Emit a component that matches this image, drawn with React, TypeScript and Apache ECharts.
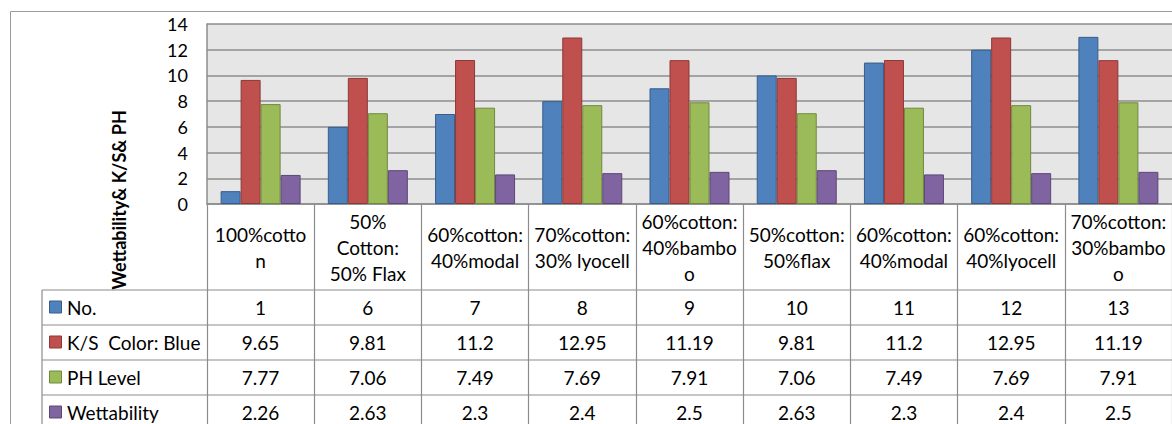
import React, { useEffect, useRef } from "react";
import * as echarts from "echarts";

// Fabric blends (header cells of the data table, wrapped as shown)
const categories = [
  "100%cotto\nn",
  "50%\nCotton:\n50% Flax",
  "60%cotton:\n40%modal",
  "70%cotton:\n30% lyocell",
  "60%cotton:\n40%bambo\no",
  "50%cotton:\n50%flax",
  "60%cotton:\n40%modal",
  "60%cotton:\n40%lyocell",
  "70%cotton:\n30%bambo\no",
];

const seriesNames = ["No.", "K/S  Color: Blue", "PH Level", "Wettability"];

const noValues = [1, 6, 7, 8, 9, 10, 11, 12, 13];
const ksValues = [9.65, 9.81, 11.2, 12.95, 11.19, 9.81, 11.2, 12.95, 11.19];
const phValues = [7.77, 7.06, 7.49, 7.69, 7.91, 7.06, 7.49, 7.69, 7.91];
const wetValues = [2.26, 2.63, 2.3, 2.4, 2.5, 2.63, 2.3, 2.4, 2.5];

const yTicks = { min: 0, max: 14, interval: 2 };

const FILLS = ["#4F81BD", "#C0504D", "#9BBB59", "#8064A2"];
const EDGES = ["#385D8A", "#8C3836", "#71893F", "#5C4776"];
const FONT = "Lato, 'Open Sans', sans-serif";
const LINE = "#8c8c8c";
const TABLE_FONT = 19;

// Layout of the plot and the data table beneath it
const GRID = { left: 207, top: 24, width: 966, height: 180 };
const HEADER_H = 86;
const ROW_H = 35;
const TABLE_LEFT = 42;

export default function App() {
  const ref = useRef<HTMLDivElement>(null);

  useEffect(() => {
    document.body.style.margin = "0";
    if (!ref.current) return;
    const chart = echarts.init(ref.current, undefined, { renderer: "svg" });
    const allValues = [noValues, ksValues, phValues, wetValues];
    const axisY = GRID.top + GRID.height;
    const tableBottom = 440;

    chart.setOption({
      animation: false,
      backgroundColor: "#ffffff",
      grid: { ...GRID, containLabel: false },
      xAxis: {
        type: "category",
        data: categories,
        axisLine: { show: true, lineStyle: { color: LINE, width: 1.5 } },
        axisTick: {
          show: true,
          interval: 0,
          length: tableBottom - axisY,
          lineStyle: { color: LINE, width: 1.2 },
        },
        axisLabel: {
          interval: 0,
          margin: HEADER_H / 2,
          verticalAlign: "middle",
          align: "center",
          fontFamily: FONT,
          fontSize: TABLE_FONT,
          lineHeight: 26,
          color: "#000",
        },
        splitLine: { show: false },
      },
      yAxis: {
        type: "value",
        min: yTicks.min,
        max: yTicks.max,
        interval: yTicks.interval,
        axisLine: { show: true, lineStyle: { color: LINE, width: 1.5 } },
        axisTick: { show: false },
        axisLabel: {
          margin: 19,
          fontFamily: FONT,
          fontSize: 18,
          color: "#000",
        },
        splitLine: { show: true, lineStyle: { color: LINE, width: 1.5 } },
        splitArea: { show: true, areaStyle: { color: ["#e6e6e6", "#e6e6e6"] } },
      },
      series: allValues.map((vals, i) => ({
        type: "bar",
        name: seriesNames[i],
        data: vals,
        barWidth: 20,
        barGap: "0%",
        itemStyle: { color: FILLS[i], borderColor: EDGES[i], borderWidth: 1 },
      })),
    });

    // Data table rows, placed under each category via the x scale
    const elements: any[] = [];
    const right = GRID.left + GRID.width;
    const rowTops = [0, 1, 2, 3, 4].map((r) => axisY + HEADER_H + r * ROW_H);

    rowTops.forEach((y) => {
      elements.push({
        type: "line",
        shape: { x1: TABLE_LEFT, y1: y, x2: right, y2: y },
        style: { stroke: LINE, lineWidth: 1.2 },
        silent: true,
      });
    });
    elements.push({
      type: "line",
      shape: { x1: TABLE_LEFT, y1: rowTops[0], x2: TABLE_LEFT, y2: tableBottom },
      style: { stroke: LINE, lineWidth: 1.2 },
    });

    allValues.forEach((vals, r) => {
      const cy = rowTops[r] + ROW_H / 2;
      elements.push({
        type: "rect",
        shape: { x: 49.5, y: cy - 6.5, width: 12, height: 12 },
        style: { fill: FILLS[r], stroke: EDGES[r], lineWidth: 1 },
      });
      elements.push({
        type: "text",
        x: 67,
        y: cy,
        style: {
          text: seriesNames[r],
          font: `${TABLE_FONT}px ${FONT}`,
          fill: "#000",
          align: "left",
          verticalAlign: "middle",
        },
      });
      vals.forEach((v, c) => {
        const px = chart.convertToPixel({ xAxisIndex: 0 }, c) as number;
        elements.push({
          type: "text",
          x: px,
          y: cy,
          style: {
            text: String(v),
            font: `${TABLE_FONT}px ${FONT}`,
            fill: "#000",
            align: "center",
            verticalAlign: "middle",
          },
        });
      });
    });

    // Vertical axis title
    elements.push({
      type: "text",
      x: 119,
      y: 200,
      rotation: Math.PI / 2,
      style: {
        text: "Wettability& K/S& PH",
        font: `bold 18px ${FONT}`,
        fill: "#000",
        align: "center",
        verticalAlign: "middle",
      },
    });

    // Chart-area frame
    elements.push({
      type: "rect",
      shape: { x: 10.5, y: 11.5, width: 1300, height: 500 },
      style: { fill: "none", stroke: "#9a9a9a", lineWidth: 1 },
      silent: true,
    });

    chart.setOption({ graphic: { elements } });

    return () => chart.dispose();
  }, []);

  return <div ref={ref} style={{ width: 1172, height: 424 }} />;
}
